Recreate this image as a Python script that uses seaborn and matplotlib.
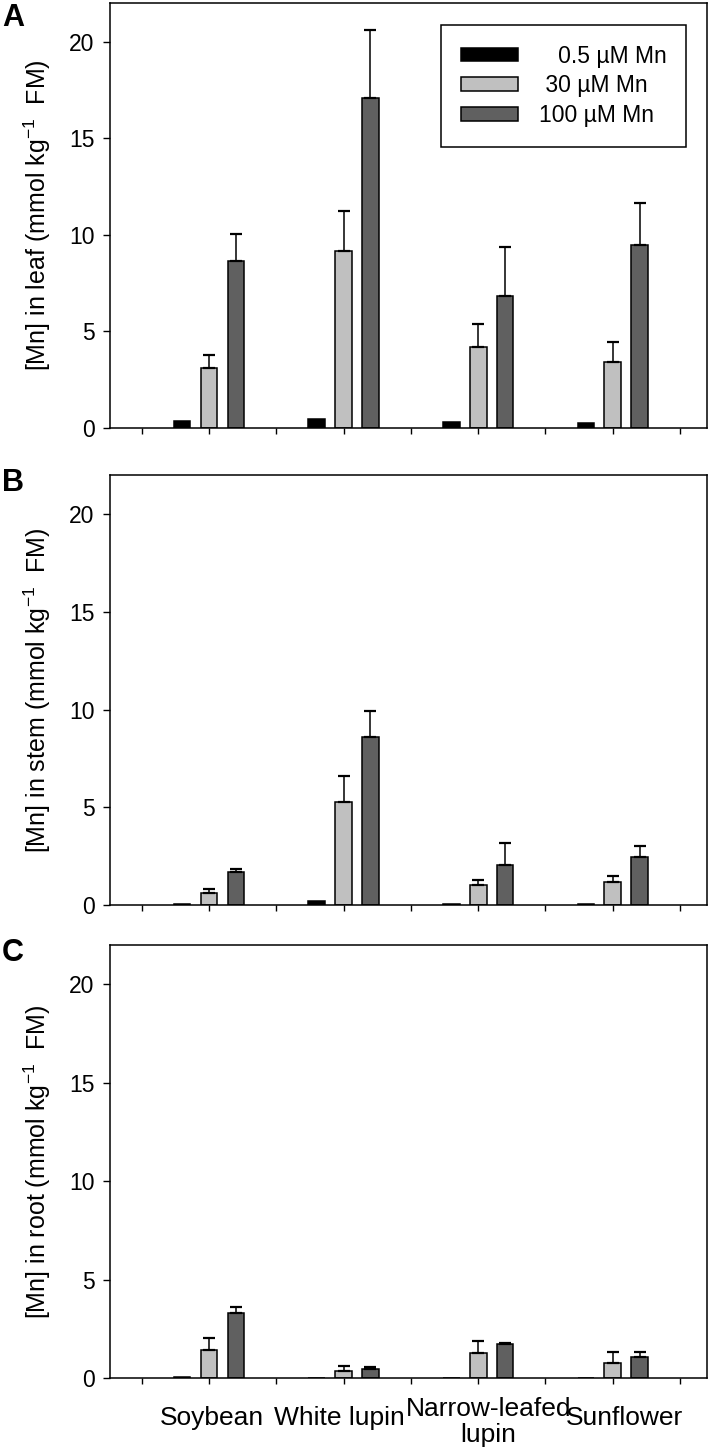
import numpy as np
import pandas as pd
import matplotlib.pyplot as plt
import matplotlib.transforms as mtransforms
import seaborn as sns

# species / treatments
species = ["Soybean", "White lupin", "Narrow-leafed\nlupin", "Sunflower"]
treatments = ["0.5 µM Mn", "30 µM Mn", "100 µM Mn"]
legend_labels = ["   0.5 µM Mn", " 30 µM Mn", "100 µM Mn"]
colors = ["#000000", "#c0c0c0", "#606060"]

# leaf (panel A)
leaf_low = [0.35, 0.47, 0.31, 0.26]
leaf_mid = [3.11, 9.15, 4.21, 3.42]
leaf_high = [8.64, 17.10, 6.84, 9.46]
leaf_mid_se = [0.69, 2.06, 1.16, 1.02]
leaf_high_se = [1.38, 3.50, 2.54, 2.20]

# stem (panel B)
stem_low = [0.03, 0.22, 0.05, 0.05]
stem_mid = [0.60, 5.26, 1.03, 1.16]
stem_high = [1.69, 8.62, 2.03, 2.48]
stem_mid_se = [0.20, 1.36, 0.25, 0.34]
stem_high_se = [0.17, 1.31, 1.13, 0.56]

# root (panel C)
root_low = [0.05, 0.01, 0.02, 0.02]
root_mid = [1.41, 0.34, 1.29, 0.78]
root_high = [3.28, 0.48, 1.73, 1.07]
root_mid_se = [0.63, 0.25, 0.61, 0.53]
root_high_se = [0.34, 0.08, 0.05, 0.24]

panels = [
    ("A", "leaf", [leaf_low, leaf_mid, leaf_high], [None, leaf_mid_se, leaf_high_se]),
    ("B", "stem", [stem_low, stem_mid, stem_high], [None, stem_mid_se, stem_high_se]),
    ("C", "root", [root_low, root_mid, root_high], [None, root_mid_se, root_high_se]),
]

sns.set_style("ticks")
plt.rcParams["font.family"] = ["Liberation Sans", "DejaVu Sans"]
plt.rcParams["mathtext.fontset"] = "custom"
plt.rcParams["mathtext.rm"] = "Liberation Sans"
plt.rcParams["text.color"] = "black"
plt.rcParams["axes.labelcolor"] = "black"
plt.rcParams["xtick.color"] = "black"
plt.rcParams["ytick.color"] = "black"

W, H = 713, 1454
fig = plt.figure(figsize=(W / 100, H / 100), dpi=100)
# axes boxes in pixels: (top, bottom)
boxes = [(3, 428), (475, 905), (945, 1378)]
letter_y = [3, 468, 938]
left_px, right_px = 110, 707
# horizontal nudges (px) of the category labels, as in the original figure
label_shift = [3, -4, 10, 12]

for i, (letter, tissue, means, ses) in enumerate(panels):
    top, bot = boxes[i]
    ax = fig.add_axes([left_px / W, 1 - bot / H, (right_px - left_px) / W, (bot - top) / H])

    df = pd.DataFrame({
        "species": np.repeat([species], 3, axis=0).ravel(),
        "treatment": np.repeat(treatments, 4),
        "value": np.concatenate(means),
    })
    sns.barplot(data=df, x="species", y="value", hue="treatment",
                order=species, hue_order=treatments, palette=colors,
                width=0.6, gap=0.38, edgecolor="black", linewidth=1.1,
                errorbar=None, legend=(i == 0), ax=ax)

    for cont, se in zip(ax.containers, ses):
        if se is None:
            continue
        for bar, e in zip(cont, se):
            xc = bar.get_x() + bar.get_width() / 2
            ax.errorbar(xc, bar.get_height(), yerr=[[0], [e]], fmt="none",
                        ecolor="black", elinewidth=1.1, capsize=4, capthick=1.6,
                        zorder=1)

    ax.set_xlim(-0.735, 3.70)
    ax.set_ylim(0, 22)
    ax.set_yticks([0, 5, 10, 15, 20])
    ax.set_xticks(np.arange(-0.5, 3.51, 0.5))
    ax.set_xticklabels([])
    if i == 2:
        for k, (name, dx) in enumerate(zip(species, label_shift)):
            dy = -40 if "\n" not in name else -44
            tr = ax.get_xaxis_transform() + mtransforms.ScaledTranslation(
                dx / 100, dy / 100, fig.dpi_scale_trans)
            ax.text(k, 0, name, transform=tr, ha="center", va="center",
                    fontsize=19, linespacing=1.1, clip_on=False)
    ax.tick_params(axis="y", direction="out", length=5, width=1, labelsize=16.5, pad=6)
    ax.tick_params(axis="x", direction="out", length=4, width=1)
    ax.set_xlabel("")
    ax.set_ylabel(f"[Mn] in {tissue} (mmol kg$^{{-1}}$  FM)", fontsize=18, labelpad=12)
    for s in ax.spines.values():
        s.set_visible(True)
        s.set_linewidth(1.1)
        s.set_color("black")

    if i == 0:
        handles, _ = ax.get_legend_handles_labels()
        leg = ax.legend(handles, legend_labels, loc="upper right",
                        bbox_to_anchor=(0.965, 0.948), borderaxespad=0,
                        fontsize=16.5, handlelength=2.5, handleheight=0.55,
                        handletextpad=0.9, labelspacing=0.3, borderpad=0.85,
                        frameon=True, fancybox=False, edgecolor="black",
                        framealpha=1)
        leg.get_frame().set_linewidth(1.1)

    fig.text(2 / W, 1 - letter_y[i] / H, letter, fontsize=22, fontweight="bold",
             va="top", ha="left")

fig.savefig("out.png", dpi=100)
